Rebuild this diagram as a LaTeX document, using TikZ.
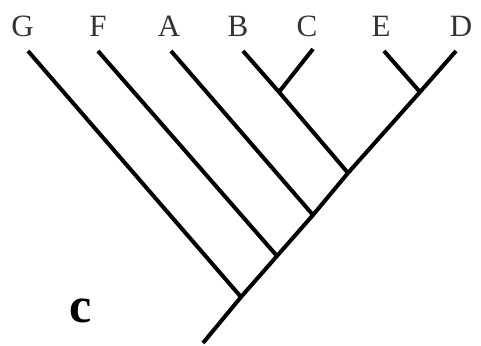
\documentclass[tikz,border=0pt]{standalone}
\usepackage{fontspec}
\setmainfont{Liberation Serif}
\begin{document}
\begin{tikzpicture}[x=1pt,y=-1pt,
  taxon/.style={anchor=base,inner sep=0pt,font=\fontsize{31}{31}\selectfont,text=black!80},
  branch/.style={line width=4pt,line cap=butt}]
\useasboundingbox (0,0) rectangle (481,345);
% labels
\node[taxon] (lG) at (22.5,37) {G};
\node[taxon] (lF) at (98,37) {F};
\node[taxon] (lA) at (169,37) {A};
\node[taxon] (lB) at (238,37) {B};
\node[taxon] (lC) at (307,37) {C};
\node[taxon] (lE) at (381,37) {E};
\node[taxon] (lD) at (461,37) {D};
% tips
\coordinate (tG) at (28,51);
\coordinate (tF) at (98,51);
\coordinate (tA) at (171,51);
\coordinate (tB) at (243,51);
\coordinate (tC) at (313,49);
\coordinate (tE) at (384,51);
\coordinate (tD) at (456,51);
% internal nodes
\coordinate (jBC) at (279,92);
\coordinate (jED) at (420,92);
\coordinate (jB) at (348,173);
\coordinate (jA) at (313,215);
\coordinate (jF) at (277,256);
\coordinate (jG) at (241,297);
\coordinate (root) at (203,343);
% branches
\draw[branch] (tD) -- (jED) -- (jB) -- (jA) -- (jF) -- (jG) -- (root);
\draw[branch] (tE) -- (jED);
\draw[branch] (tB) -- (jBC) -- (jB);
\draw[branch] (tC) -- (jBC);
\draw[branch] (tA) -- (jA);
\draw[branch] (tF) -- (jF);
\draw[branch] (tG) -- (jG);
% label c
\node[anchor=center,inner sep=0pt,font=\fontsize{50}{50}\selectfont\bfseries] (lc) at (80.5,311) {c};
\end{tikzpicture}
\end{document}
